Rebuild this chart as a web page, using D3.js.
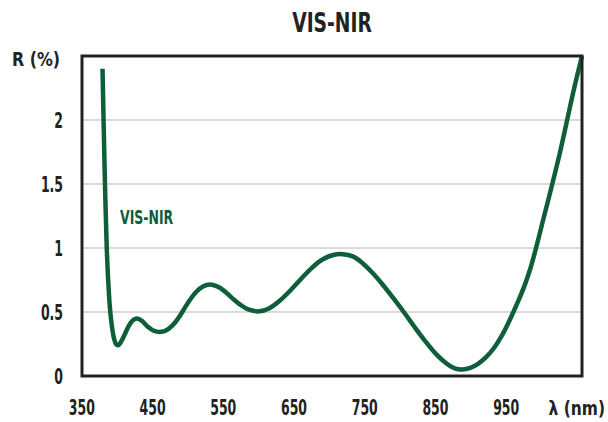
<!DOCTYPE html>
<html>
<head>
<meta charset="utf-8">
<script src="https://cdn.jsdelivr.net/npm/d3@7"></script>
<style>
  html, body { margin: 0; padding: 0; background: #fff; }
  svg { display: block; }
  text { font-family: "DejaVu Sans Condensed", "Liberation Sans Narrow", sans-serif; }
</style>
</head>
<body>
<svg id="chart" width="608" height="422"></svg>
<script>
// Data (wavelength in nm, reflectance in %)
const wavelengths = [379, 380.5, 382.5, 385, 387, 389.5, 392, 395, 398, 401, 405, 410, 416, 422, 428, 435, 443, 452, 462, 470, 478, 486, 494, 502, 512, 521, 531, 541, 551, 562, 573, 585, 601, 615, 630, 645, 660, 675, 690, 705, 719, 733, 746, 760, 775, 790, 805, 820, 835, 850, 865, 877, 888, 899, 910, 921, 932, 943, 952, 960, 968, 976, 984, 992, 1003, 1015, 1026, 1036, 1046, 1057];
const reflectance = [2.40, 2.00, 1.50, 1.00, 0.75, 0.53, 0.40, 0.30, 0.25, 0.24, 0.265, 0.32, 0.39, 0.435, 0.45, 0.43, 0.385, 0.352, 0.345, 0.36, 0.395, 0.45, 0.52, 0.59, 0.66, 0.70, 0.715, 0.70, 0.665, 0.61, 0.56, 0.52, 0.505, 0.53, 0.59, 0.67, 0.76, 0.845, 0.91, 0.945, 0.952, 0.935, 0.885, 0.81, 0.715, 0.61, 0.50, 0.385, 0.275, 0.175, 0.10, 0.06, 0.05, 0.063, 0.095, 0.145, 0.215, 0.31, 0.405, 0.50, 0.60, 0.71, 0.84, 1.00, 1.24, 1.50, 1.75, 2.00, 2.25, 2.50];
const xTicks = [350, 450, 550, 650, 750, 850, 950];
const yTicks = [0, 0.5, 1, 1.5, 2];
const yGrid = [0.5, 1, 1.5, 2];
const title = "VIS-NIR";
const seriesName = "VIS-NIR";
const xLabel = "λ (nm)";
const yLabel = "R (%)";

const data = wavelengths.map((w, i) => ({ w, r: reflectance[i] }));

const svg = d3.select("#chart");
const L = 82, R = 582, T = 56, B = 376;
const green = "#0e5e3a";
const ink = "#222";

const x = d3.scaleLinear().domain([350, 1057]).range([L, R]);
const y = d3.scaleLinear().domain([0, 2.5]).range([B, T]);

// gridlines
svg.append("g").selectAll("line").data(yGrid).join("line")
  .attr("x1", L).attr("x2", R)
  .attr("y1", d => y(d)).attr("y2", d => y(d))
  .attr("stroke", "#b4b4b4").attr("stroke-width", 1.2);

// curve
svg.append("path")
  .datum(data)
  .attr("fill", "none")
  .attr("stroke", green)
  .attr("stroke-width", 4.5)
  .attr("stroke-linejoin", "round")
  .attr("d", d3.line().x(d => x(d.w)).y(d => y(d.r)).curve(d3.curveCatmullRom.alpha(0.5)));

// frame
svg.append("rect")
  .attr("x", L).attr("y", T).attr("width", R - L).attr("height", B - T)
  .attr("fill", "none").attr("stroke", ink).attr("stroke-width", 3);

const tickScale = 0.66;

// x axis tick labels via d3 axis
const xAxis = svg.append("g")
  .attr("transform", `translate(0,${B})`)
  .call(d3.axisBottom(x).tickValues(xTicks).tickSize(0).tickPadding(24).tickFormat(d3.format("d")));
xAxis.select(".domain").remove();
xAxis.selectAll("text")
  .attr("font-size", 21).attr("font-weight", "bold").attr("fill", ink)
  .attr("font-family", "'DejaVu Sans Condensed', sans-serif")
  .attr("transform", `scale(${tickScale},1)`)
  .attr("x", -1);

// y axis tick labels
const yAxis = svg.append("g")
  .attr("transform", `translate(${L},0)`)
  .call(d3.axisLeft(y).tickValues(yTicks).tickSize(0).tickFormat(d => d3.format("")(d)));
yAxis.select(".domain").remove();
yAxis.selectAll("text")
  .attr("font-size", 21).attr("font-weight", "bold").attr("fill", ink)
  .attr("font-family", "'DejaVu Sans Condensed', sans-serif")
  .attr("transform", `scale(${tickScale},1)`)
  .attr("x", -19 / tickScale)
  .attr("dy", "0.38em");

function label(txt, px, py, size, sx, anchor, color) {
  svg.append("text")
    .attr("transform", `translate(${px},${py}) scale(${sx},1)`)
    .attr("text-anchor", anchor)
    .attr("font-size", size).attr("font-weight", "bold").attr("fill", color)
    .text(txt);
}

// title
label(title, (L + R) / 2, 32, 26, 0.8, "middle", ink);
// axis labels
label(yLabel, 12, 66, 20, 0.88, "start", ink);
label(xLabel, 605, 415, 20, 0.86, "end", ink);
// series label inside plot
label(seriesName, 120, 224, 19, 0.73, "start", green);
</script>
</body>
</html>
